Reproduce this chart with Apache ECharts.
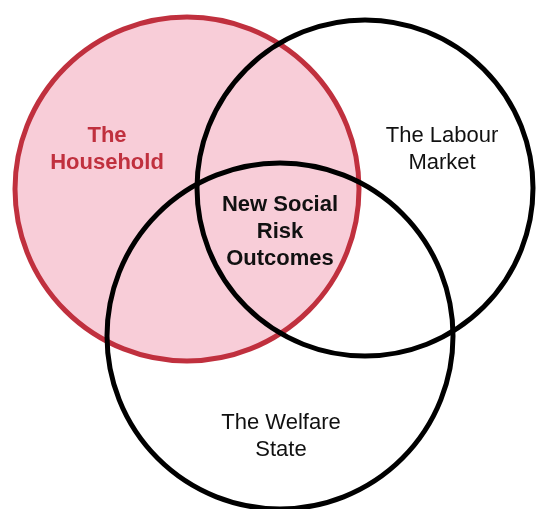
<!DOCTYPE html>
<html>
<head>
<meta charset="utf-8">
<script src="https://cdn.jsdelivr.net/npm/echarts@6/dist/echarts.min.js"></script>
<style>
  html, body { margin: 0; padding: 0; background: #fff; }
  #chart { width: 536px; height: 509px; }
</style>
</head>
<body>
<div id="chart"></div>
<script>
// Venn circles in picture units (x right, y down)
const circleNames = ['The Household', 'The Labour Market', 'The Welfare State']
const circleX = [187, 365, 280]
const circleY = [189, 188, 336]
const circleR = [172, 168, 173]

// text blocks
const labelText = ['The\nHousehold', 'The Labour\nMarket', 'New Social\nRisk\nOutcomes', 'The Welfare\nState']
const labelX = [107, 442, 280, 281]
const labelY = [149, 149, 232, 436]

const chart = echarts.init(document.getElementById('chart'))

const circleData = circleNames.map((n, i) => ({ name: n, value: [circleX[i], circleY[i], circleR[i]] }))
const labelData = labelText.map((t, i) => ({ name: t, value: [labelX[i], labelY[i]] }))

chart.setOption({
  backgroundColor: '#fff',
  animation: false,
  grid: { left: 0, right: 0, top: 0, bottom: 0 },
  xAxis: { type: 'value', min: 0, max: 536, show: false },
  yAxis: { type: 'value', min: 0, max: 509, inverse: true, show: false },
  series: [
    {
      type: 'custom',
      data: circleData,
      renderItem: (params, api) => {
        const c = api.coord([api.value(0), api.value(1)])
        const r = api.size([api.value(2), 0])[0]
        const household = params.dataIndex === 0
        return {
          type: 'circle',
          z2: household ? 0 : 10,
          shape: { cx: c[0], cy: c[1], r: r },
          style: {
            fill: household ? '#f8cdd8' : 'none',
            stroke: household ? '#c0303e' : '#000',
            lineWidth: 5
          }
        }
      }
    },
    {
      type: 'custom',
      data: labelData,
      z: 5,
      renderItem: (params, api) => {
        const c = api.coord([api.value(0), api.value(1)])
        const i = params.dataIndex
        return {
          type: 'text',
          x: c[0],
          y: c[1],
          style: {
            text: labelText[i],
            fill: i === 0 ? '#c0303e' : '#111',
            fontFamily: 'Liberation Sans',
            fontSize: 22,
            fontWeight: (i === 0 || i === 2) ? 'bold' : 'normal',
            lineHeight: 27,
            align: 'center',
            verticalAlign: 'middle'
          }
        }
      }
    }
  ]
})
</script>
</body>
</html>
